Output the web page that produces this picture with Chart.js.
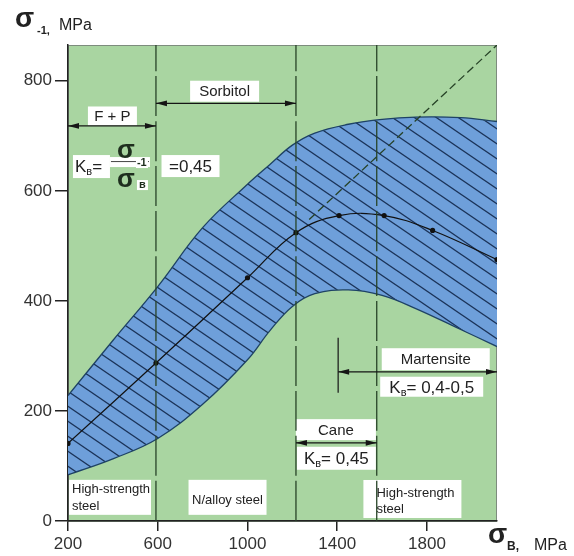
<!DOCTYPE html>
<html>
<head>
<meta charset="utf-8">
<script src="https://cdn.jsdelivr.net/npm/chart.js"></script>
<style>
html, body { margin: 0; background: #fff; }
#wrap { width: 574px; height: 556px; }
</style>
</head>
<body>
<div id="wrap"><canvas id="fatigue"></canvas></div>
<script>

const FONT = "'Liberation Sans', Arial, sans-serif";
const GREEN = "#a9d5a1";
const BLUE = "#6e9fda";
const HATCH = "#1b3358";
const EDGE = "#1e4265";
const DARK = "#1e2e1e";

// axis ticks
const xTicks = [200, 600, 1000, 1400, 1800];
const yTicks = [0, 200, 400, 600, 800];

// scatter band of sigma-1 vs sigma-B
const bandX = [200, 400, 600, 800, 1000, 1100, 1200, 1300, 1450, 1600, 1750, 1950, 2112];
const bandUpper = [228, 328, 426, 533, 612, 648, 683, 705, 721, 730, 734, 733, 726];
const bandLower = [84, 113, 150, 212, 293, 346, 390, 413, 420, 410, 386, 348, 317];

// mean curve
const meanX = [200, 592, 1000, 1216, 1408, 1609, 1825, 2112];
const meanY = [141, 287, 442, 524, 555, 555, 528, 475];

// dashed guide line
const guideX = [1275, 2112];
const guideY = [548, 865];

// structure boundaries
const borders = [592, 1216, 1576];

const zip = (xs, ys) => xs.map((x, i) => ({ x: x, y: ys[i] }));


function hatchPattern() {
	const c = document.createElement("canvas");
	c.width = 22;
	c.height = 15;
	const g = c.getContext("2d");
	g.fillStyle = BLUE;
	g.fillRect(0, 0, 22, 15);
	g.strokeStyle = HATCH;
	g.lineWidth = 1.3;
	for (let k = -1; k <= 1; k++) {
		g.beginPath();
		g.moveTo(-22, -15 + k * 15);
		g.lineTo(44, 30 + k * 15);
		g.stroke();
	}
	return g.createPattern(c, "repeat");
}


// text helpers
const T = (t, s, b) => ({ t: t, s: s, b: b });
const S = (t, s, b) => ({ t: t, s: s || 11, dy: 3, b: b });

function drawRuns(ctx, parts, x, y, align) {
	let w = 0;
	for (const p of parts) {
		ctx.font = (p.b ? "bold " : "") + p.s + "px " + FONT;
		w += ctx.measureText(p.t).width;
	}
	let cx = align === "center" ? x - w / 2 : x;
	ctx.textAlign = "left";
	ctx.textBaseline = "alphabetic";
	for (const p of parts) {
		ctx.font = (p.b ? "bold " : "") + p.s + "px " + FONT;
		ctx.fillText(p.t, cx, y + (p.dy || 0));
		cx += ctx.measureText(p.t).width;
	}
}


// white labels: centre in data units, box size in px
const notes = [
	{ x: 398, y: 736, w: 49, h: 19, lines: [[5, [T("F + P", 15)]]] },
	{ x: 898, y: 781, w: 69, h: 21, lines: [[5, [T("Sorbitol", 15)]]] },
	{ x: 746, y: 645, w: 58, h: 22, lines: [[6, [T("=0,45", 17)]]] },
	{ x: 1839, y: 294, w: 108, h: 22, lines: [[5, [T("Martensite", 15)]]] },
	{ x: 1821, y: 244, w: 103, h: 20, lines: [[6, [T("K", 17), S("в"), T("= 0,4-0,5", 17)]]] },
	{ x: 1394, y: 166, w: 80, h: 21, lines: [[5, [T("Cane", 15)]]] },
	{ x: 1396, y: 114, w: 79, h: 23, lines: [[6, [T("K", 17), S("в"), T("= 0,45", 17)]]] },
	{ x: 387, y: 43, w: 82, h: 35, left: 3, lines: [[-4, [T("High-strength", 13)]], [13, [T("steel", 13)]]] },
	{ x: 911, y: 43, w: 78, h: 35, lines: [[7, [T("N/alloy steel", 13)]]] },
	{ x: 1735, y: 40, w: 98, h: 38, left: 13, lines: [[-2, [T("High-strength", 13)]], [14, [T("steel", 13)]]] },
];

// dimension arrows (data units)
const arrows = [
	{ y: 718, from: 200, to: 592 },
	{ y: 759, from: 592, to: 1216 },
	{ y: 271, from: 1404, to: 2112, stem: [233, 333] },
	{ y: 142, from: 1216, to: 1576 },
];


const backdrop = {
	id: "backdrop",
	beforeDraw(chart) {
		const { ctx, chartArea: a } = chart;
		ctx.save();
		ctx.fillStyle = "#fff";
		ctx.fillRect(0, 0, chart.width, chart.height);
		ctx.fillStyle = GREEN;
		ctx.fillRect(a.left, a.top, a.right - a.left, a.bottom - a.top);
		ctx.strokeStyle = "#7d8c7d";
		ctx.lineWidth = 1;
		ctx.strokeRect(a.left + 0.5, a.top + 0.5, a.right - a.left - 1, a.bottom - a.top);
		ctx.restore();
	},
	beforeDatasetsDraw(chart) {
		const { ctx } = chart;
		const xs = chart.scales.x, ys = chart.scales.y;
		ctx.save();
		for (const n of notes) {
			const cx = xs.getPixelForValue(n.x);
			const cy = ys.getPixelForValue(n.y);
			const l = Math.max(cx - n.w / 2, chart.chartArea.left + 1);
			ctx.fillStyle = "#fff";
			ctx.fillRect(l, cy - n.h / 2, n.w, n.h);
			ctx.fillStyle = "#222";
			for (const [dy, parts] of n.lines) {
				if (n.left !== undefined) drawRuns(ctx, parts, l + n.left, cy + dy, "left");
				else drawRuns(ctx, parts, cx, cy + dy, "center");
			}
		}

		// K = sigma-1 / sigmaB formula
		const px = xs.getPixelForValue(231);
		const py = ys.getPixelForValue(645);
		ctx.fillStyle = "#fff";
		ctx.fillRect(px - 2, py - 11, 37, 23);
		ctx.fillRect(px + 35, py - 9, 40, 10);
		ctx.fillStyle = "#222";
		drawRuns(ctx, [T("K", 17), S("в"), T("=", 17)], px, py + 6, "left");
		ctx.strokeStyle = "#444";
		ctx.lineWidth = 1;
		ctx.beginPath();
		ctx.moveTo(px + 36, py - 4.5);
		ctx.lineTo(px + 74, py - 4.5);
		ctx.stroke();
		ctx.fillStyle = "#fff";
		ctx.fillRect(px + 61, py - 8, 12, 10);
		ctx.fillRect(px + 62, py + 14, 11, 10);
		ctx.fillStyle = DARK;
		drawRuns(ctx, [T("σ", 26, true)], px + 42, py - 8, "left");
		drawRuns(ctx, [T("-1", 11, true)], px + 62, py, "left");
		drawRuns(ctx, [T("σ", 26, true)], px + 42, py + 21, "left");
		drawRuns(ctx, [T("в", 11, true)], px + 64, py + 22, "left");
		ctx.restore();
	},
	afterDatasetsDraw(chart) {
		const { ctx } = chart;
		const xs = chart.scales.x, ys = chart.scales.y;
		ctx.save();
		ctx.strokeStyle = "#151515";
		ctx.fillStyle = "#151515";
		ctx.lineWidth = 1.2;
		for (const a of arrows) {
			const y = ys.getPixelForValue(a.y);
			const x1 = xs.getPixelForValue(a.from);
			const x2 = xs.getPixelForValue(a.to);
			ctx.beginPath();
			ctx.moveTo(x1, y);
			ctx.lineTo(x2, y);
			ctx.stroke();
			ctx.beginPath();
			ctx.moveTo(x1, y);
			ctx.lineTo(x1 + 11, y - 2.8);
			ctx.lineTo(x1 + 11, y + 2.8);
			ctx.closePath();
			ctx.moveTo(x2, y);
			ctx.lineTo(x2 - 11, y - 2.8);
			ctx.lineTo(x2 - 11, y + 2.8);
			ctx.closePath();
			ctx.fill();
			if (a.stem) {
				ctx.beginPath();
				ctx.moveTo(x1, ys.getPixelForValue(a.stem[0]));
				ctx.lineTo(x1, ys.getPixelForValue(a.stem[1]));
				ctx.stroke();
			}
		}
		ctx.restore();
	},
	afterDraw(chart) {
		const { ctx } = chart;
		ctx.save();
		ctx.fillStyle = "#222";
		// axis titles
		drawRuns(ctx, [T("σ", 28, true)], 15, 27, "left");
		drawRuns(ctx, [T("-1,", 11, true)], 37, 34, "left");
		drawRuns(ctx, [T("MPa", 16)], 59, 30, "left");
		drawRuns(ctx, [T("σ", 28, true)], 488, 543, "left");
		drawRuns(ctx, [T("B,", 12, true)], 507, 550, "left");
		drawRuns(ctx, [T("MPa", 16)], 534, 550, "left");
		ctx.restore();
	},
};


const tickFont = { family: FONT, size: 17 };

const datasets = [
	{
		data: zip(bandX, bandUpper),
		borderColor: EDGE,
		borderWidth: 1.3,
		backgroundColor: hatchPattern(),
		fill: "+1",
		order: 10,
	},
	{
		data: zip(bandX, bandLower),
		borderColor: EDGE,
		borderWidth: 1.3,
		fill: false,
		order: 9,
	},
	{
		data: zip(meanX, meanY),
		borderColor: "#111",
		borderWidth: 1.2,
		pointRadius: 2.6,
		pointBackgroundColor: "#111",
		pointBorderWidth: 0,
		order: 4,
	},
	{
		data: zip(guideX, guideY),
		borderColor: "#264226",
		borderWidth: 1.3,
		borderDash: [8, 4],
		order: 5,
	},
];

for (const b of borders) {
	datasets.push({
		data: [{ x: b, y: 0 }, { x: b, y: 865 }],
		borderColor: "#284428",
		borderWidth: 1.3,
		borderDash: [40, 5],
		order: 1,
	});
}

for (const d of datasets) {
	d.showLine = true;
	d.tension = 0.4;
	if (d.pointRadius === undefined) d.pointRadius = 0;
}


new Chart(document.getElementById("fatigue"), {
	type: "scatter",
	data: { datasets: datasets },
	plugins: [backdrop],
	options: {
		responsive: true,
		maintainAspectRatio: false,
		animation: false,
		layout: { padding: { left: 0, top: 45, right: 77, bottom: 0 } },
		plugins: {
			legend: { display: false },
			tooltip: { enabled: false },
		},
		scales: {
			x: {
				type: "linear",
				min: 200,
				max: 2112,
				afterBuildTicks: (s) => { s.ticks = xTicks.map((v) => ({ value: v })); },
				afterFit: (s) => { s.height = 35; },
				grid: { drawOnChartArea: false, tickLength: 10, color: "#222", lineWidth: 1.5 },
				border: { color: "#222", width: 1.5 },
				ticks: { font: tickFont, color: "#333", padding: 3, maxRotation: 0, autoSkip: false, callback: (v) => String(v) },
			},
			y: {
				type: "linear",
				min: 0,
				max: 865,
				afterBuildTicks: (s) => { s.ticks = yTicks.map((v) => ({ value: v })); },
				afterFit: (s) => { s.width = 68; },
				grid: { drawOnChartArea: false, tickLength: 13, color: "#222", lineWidth: 1.5 },
				border: { color: "#222", width: 1.5 },
				ticks: { font: tickFont, color: "#333", padding: 3, autoSkip: false, callback: (v) => String(v) },
			},
		},
	},
});
</script>
</body>
</html>
